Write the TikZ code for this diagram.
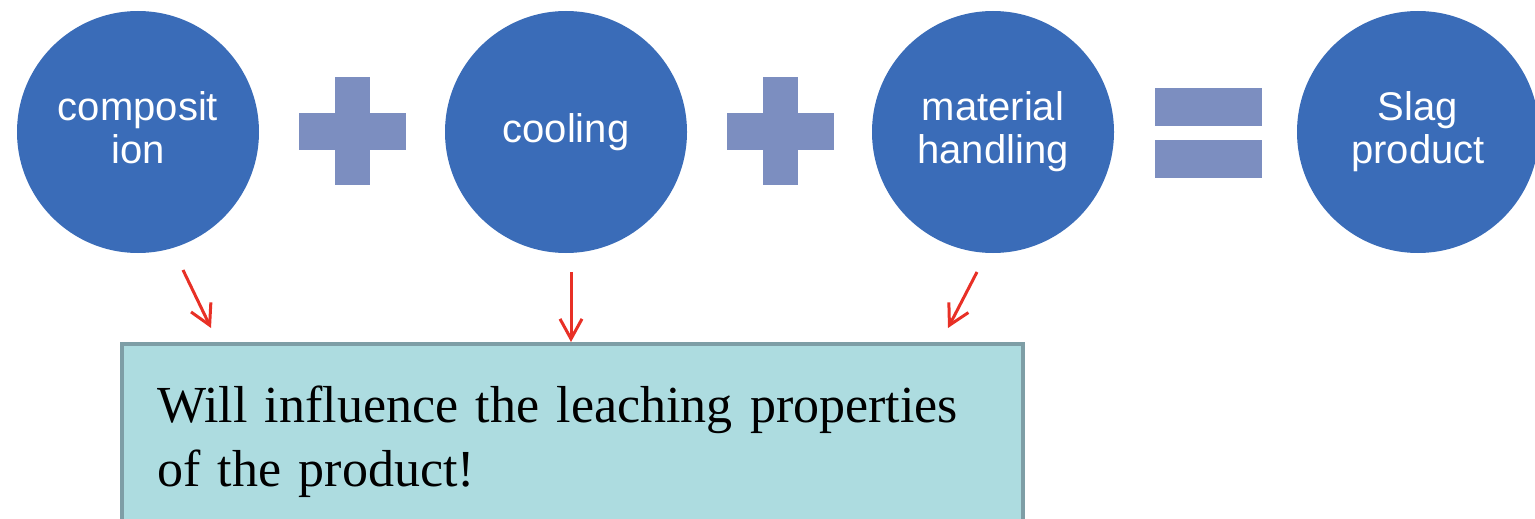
\documentclass[tikz,border=0pt]{standalone}
\usepackage{fontspec}
\setmainfont{Liberation Serif}
\newfontfamily\arial{Liberation Sans}
\usepackage{tikz}
\usetikzlibrary{shapes, arrows.meta, positioning}
\definecolor{azul}{RGB}{58,108,184}
\definecolor{signo}{RGB}{124,142,192}
\definecolor{rojo}{RGB}{232,48,38}
\definecolor{celeste}{RGB}{173,220,224}
\definecolor{borde}{RGB}{126,158,166}
\tikzstyle{etapa} = [circle, fill=azul, minimum size=242pt, inner sep=0pt, text=white, align=center, text depth=8pt, font=\arial\fontsize{40}{43}\selectfont]
\tikzstyle{barra} = [rectangle, fill=signo, inner sep=0pt, outer sep=0pt]
\tikzstyle{flecha} = [draw=rojo, line width=3pt, -{Straight Barb[length=20pt,width=22pt]}]
\tikzstyle{cuadro} = [draw=borde, fill=celeste, line width=4pt, rectangle, inner sep=0pt, outer sep=0pt, minimum width=901pt, minimum height=200pt]
\tikzstyle{texto} = [inner sep=0pt, text width=850pt, align=left, font=\fontsize{52}{64}\selectfont]
\newcommand{\mas}[2]{%
	\node[barra, minimum width=107pt, minimum height=37pt] (#1h) at (#2) {};
	\node[barra, minimum width=35pt, minimum height=108pt] (#1v) at (#2) {};}

\begin{document}
\begin{tikzpicture}[x=1pt, y=-1pt]
	\useasboundingbox (0,0) rectangle (1535,519);
	\node[etapa] (comp) at (138,132) {composit\\ion};
	\node[etapa] (cool) at (566,132) {cooling};
	\node[etapa] (mat) at (993,132) {material\\handling};
	\node[etapa] (slag) at (1418,132) {Slag\\product};
	\mas{mas1}{352,131}
	\mas{mas2}{780,131}
	\node[barra, minimum width=107pt, minimum height=38pt] (igual1) at (1208,107) {};
	\node[barra, minimum width=107pt, minimum height=38pt] (igual2) at (1208,159) {};
	\node[cuadro, anchor=north west] (box) at (122,344) {};
	\node[texto, anchor=north west, xshift=35pt, yshift=-42pt] at (box.north west) {Will influence the leaching properties of the product!};
	\coordinate (a1) at (183,270);
	\coordinate (b1) at (211,328);
	\coordinate (a2) at (571,272);
	\coordinate (b2) at (571,342);
	\coordinate (a3) at (977,272);
	\coordinate (b3) at (948,328);
	\draw[flecha] (a1) -- (b1);
	\draw[flecha] (a2) -- (b2);
	\draw[flecha] (a3) -- (b3);
\end{tikzpicture}
\end{document}
